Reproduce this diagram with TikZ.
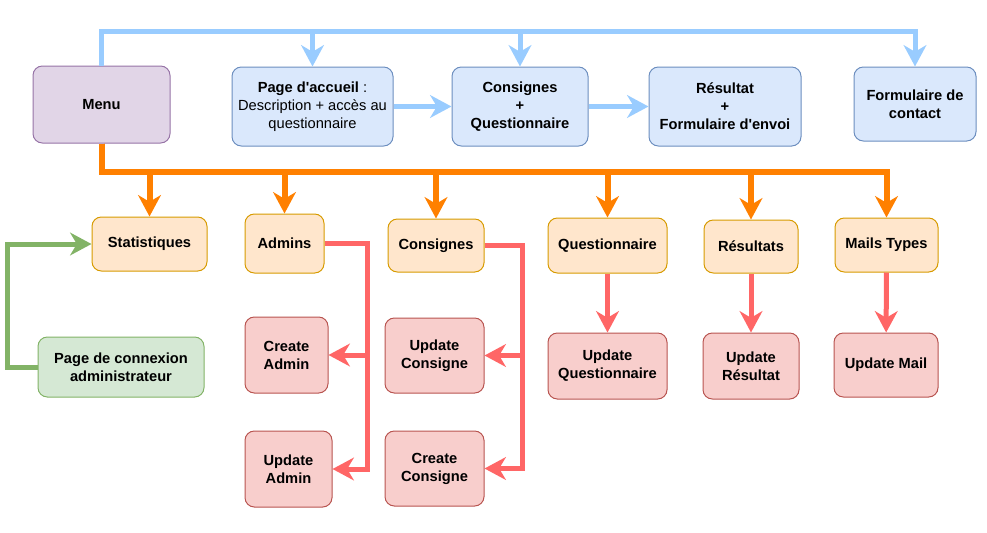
\documentclass[tikz,border=0pt]{standalone}
\usepackage{fontspec}
\setmainfont{Liberation Sans}
\definecolor{menuFill}{HTML}{E1D5E7}
\definecolor{menuDraw}{HTML}{9673A6}
\definecolor{pageFill}{HTML}{DAE8FC}
\definecolor{pageDraw}{HTML}{6C8EBF}
\definecolor{sectFill}{HTML}{FFE6CC}
\definecolor{sectDraw}{HTML}{D79B00}
\definecolor{actFill}{HTML}{F8CECC}
\definecolor{actDraw}{HTML}{B85450}
\definecolor{logFill}{HTML}{D5E8D4}
\definecolor{logDraw}{HTML}{82B366}
\definecolor{blueLink}{HTML}{99CCFF}
\definecolor{orangeLink}{HTML}{FF8000}
\definecolor{redLink}{HTML}{FF6666}
\usetikzlibrary{arrows.meta, positioning}

\begin{document}
\begin{tikzpicture}[x=0.75pt, y=-0.75pt,
  box/.style={rectangle, rounded corners=7pt, line width=0.75pt, inner sep=0pt,
              align=center, font=\fontsize{11}{13.5}\selectfont\bfseries},
  menubox/.style={box, draw=menuDraw, fill=menuFill},
  pagebox/.style={box, draw=pageDraw, fill=pageFill},
  sectbox/.style={box, draw=sectDraw, fill=sectFill},
  actbox/.style={box, draw=actDraw, fill=actFill},
  logbox/.style={box, draw=logDraw, fill=logFill},
  link/.style={-{Stealth[length=16pt, width=17pt, inset=5pt]}, line width=3.75pt},
  bluelink/.style={link, blueLink},
  orangelink/.style={link, orangeLink, line width=4.5pt},
  redlink/.style={link, redLink},
  greenlink/.style={link, logDraw},
]
  \useasboundingbox (0,0) rectangle (987,532);

  \node[menubox, minimum width=102.75pt, minimum height=57.75pt] (menu) at (101.5,104.5) {Menu};

  \node[pagebox, minimum width=120.75pt, minimum height=59.25pt] (accueil) at (312.5,106.5)
    {Page d\textquotesingle accueil\mdseries\ :\\\mdseries Description + accès au\\\mdseries questionnaire};
  \node[pagebox, minimum width=102pt, minimum height=59.25pt] (consquest) at (520,106.5)
    {Consignes\\+\\Questionnaire};
  \node[pagebox, minimum width=114pt, minimum height=59.25pt] (resform) at (725,106.5)
    {Résultat\\+\\Formulaire d\textquotesingle envoi};
  \node[pagebox, minimum width=91.5pt, minimum height=55.5pt] (contact) at (915,104)
    {Formulaire de\\contact};

  \node[sectbox, minimum width=86.25pt, minimum height=40.5pt] (stats) at (149.5,244) {Statistiques};
  \node[sectbox, minimum width=59.25pt, minimum height=44.25pt] (admins) at (284.5,243.5) {Admins};
  \node[sectbox, minimum width=72pt, minimum height=39.75pt] (consignes) at (436,245.5) {Consignes};
  \node[sectbox, minimum width=89.25pt, minimum height=41.25pt] (questionnaire) at (607.5,245.5) {Questionnaire};
  \node[sectbox, minimum width=70.5pt, minimum height=39.75pt] (resultats) at (751,246.5) {Résultats};
  \node[sectbox, minimum width=77.25pt, minimum height=40.5pt] (mails) at (886.5,245) {Mails Types};

  \node[logbox, minimum width=124.5pt, minimum height=45pt] (connexion) at (121,367)
    {Page de connexion\\administrateur};

  \node[actbox, minimum width=62.25pt, minimum height=57pt] (createadmin) at (286.5,355) {Create\\Admin};
  \node[actbox, minimum width=65.25pt, minimum height=57pt] (updateadmin) at (288.5,469) {Update\\Admin};
  \node[actbox, minimum width=74.25pt, minimum height=56.25pt] (updateconsigne) at (434.5,355.5) {Update\\Consigne};
  \node[actbox, minimum width=74.25pt, minimum height=56.25pt] (createconsigne) at (434.5,468.5) {Create\\Consigne};
  \node[actbox, minimum width=89.25pt, minimum height=49.5pt] (updatequest) at (607.5,366) {Update\\Questionnaire};
  \node[actbox, minimum width=72pt, minimum height=49.5pt] (updateres) at (751,366) {Update\\Résultat};
  \node[actbox, minimum width=78pt, minimum height=48pt] (updatemail) at (886,365) {Update Mail};

  \coordinate (topbus) at (0,31);
  \coordinate (midbus) at (0,172);

  \draw[bluelink] (menu.north) |- (topbus -| accueil) -- (accueil.north);
  \draw[bluelink] (menu.north) |- (topbus -| consquest) -- (consquest.north);
  \draw[bluelink] (menu.north) |- (topbus -| contact) -- (contact.north);
  \draw[bluelink] (accueil) -- (consquest);
  \draw[bluelink] (consquest) -- (resform);

  \foreach \sect in {stats, admins, consignes, questionnaire, resultats, mails}
    \draw[orangelink] (menu.south) |- (midbus -| \sect) -- (\sect.north);

  \draw[redlink] (admins.east) -- ++(43,0) |- (createadmin.east);
  \draw[redlink] (admins.east) -- ++(43,0) |- (updateadmin.east);
  \draw[redlink] (consignes.east) -- ++(38,0) |- (updateconsigne.east);
  \draw[redlink] (consignes.east) -- ++(38,0) |- (createconsigne.east);
  \draw[redlink] (questionnaire) -- (updatequest);
  \draw[redlink] (resultats) -- (updateres);
  \draw[redlink] (mails) -- (updatemail);

  \draw[greenlink] (connexion.west) -- ++(-30,0) |- (stats.west);
\end{tikzpicture}
\end{document}
